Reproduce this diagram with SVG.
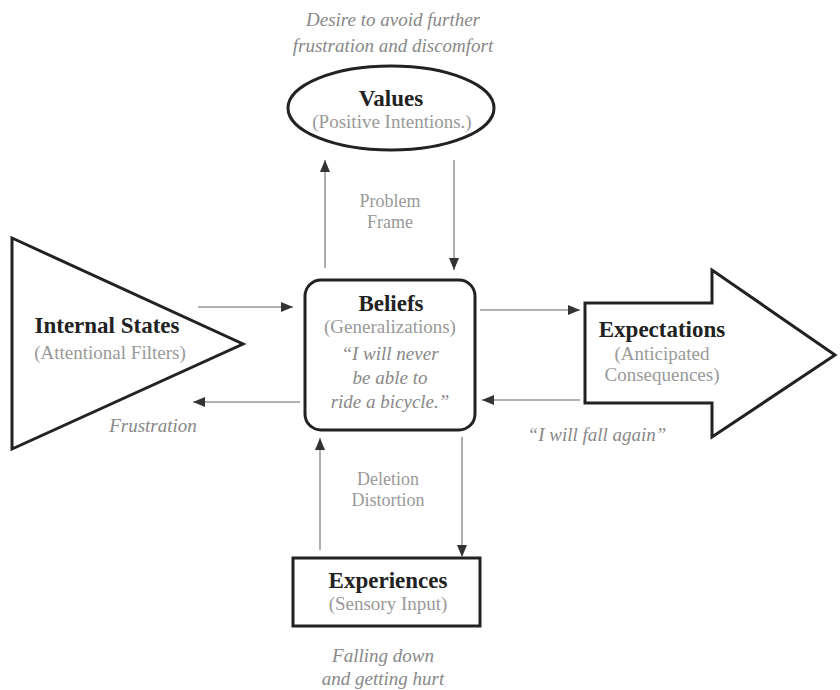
<svg xmlns="http://www.w3.org/2000/svg" width="840" height="690" viewBox="0 0 840 690">
<style>
.bg{fill:#fff}
.shape{fill:#fff;stroke:#222;stroke-width:3}
.title{font-family:"Liberation Serif",serif;font-weight:bold;font-size:23px;fill:#222;text-anchor:middle}
.sub{font-family:"Liberation Serif",serif;font-size:19px;fill:#999;text-anchor:middle}
.cap{font-family:"Liberation Serif",serif;font-style:italic;font-size:19px;fill:#888;text-anchor:middle}
.mid{font-family:"Liberation Serif",serif;font-size:18px;fill:#999;text-anchor:middle}
.conn line{stroke:#999;stroke-width:1.6;marker-end:url(#ah)}
</style>
<defs>
<marker id="ah" viewBox="0 0 12 10" refX="12" refY="5" markerWidth="12" markerHeight="10" markerUnits="userSpaceOnUse" orient="auto">
<path d="M0,0 L12,5 L0,10 z" fill="#333"/>
</marker>
</defs>
<rect class="bg" width="840" height="690"/>

<g id="values">
<text class="cap" x="393" y="26">Desire to avoid further</text>
<text class="cap" x="393" y="52">frustration and discomfort</text>
<ellipse class="shape" cx="391" cy="108" rx="103" ry="42"/>
<text class="title" x="391" y="106">Values</text>
<text class="sub" x="392" y="128">(Positive Intentions.)</text>
</g>

<g id="beliefs">
<rect class="shape" x="305" y="280" width="170" height="150" rx="16" ry="16"/>
<text class="title" x="391" y="311">Beliefs</text>
<text class="sub" x="390" y="333">(Generalizations)</text>
<text class="cap" x="390" y="360">“I will never</text>
<text class="cap" x="390" y="384">be able to</text>
<text class="cap" x="390" y="408">ride a bicycle.”</text>
</g>

<g id="internal-states">
<polygon class="shape" points="12,238 243,344 12,449" stroke-width="3.5"/>
<text class="title" x="107" y="333">Internal States</text>
<text class="sub" x="110" y="359">(Attentional Filters)</text>
<text class="cap" x="153" y="432">Frustration</text>
</g>

<g id="expectations">
<polygon class="shape" points="585,303 712,303 712,270 835,355 712,437 712,403 585,403"/>
<text class="title" x="662" y="337">Expectations</text>
<text class="sub" x="662" y="360">(Anticipated</text>
<text class="sub" x="662" y="381">Consequences)</text>
<text class="cap" x="597" y="441">“I will fall again”</text>
</g>

<g id="experiences">
<rect class="shape" x="293" y="558" width="187" height="68"/>
<text class="title" x="388" y="588">Experiences</text>
<text class="sub" x="388" y="610">(Sensory Input)</text>
<text class="cap" x="383" y="662">Falling down</text>
<text class="cap" x="383" y="685">and getting hurt</text>
</g>

<g id="connectors" class="conn">
<line x1="198" y1="307" x2="293" y2="307"/>
<line x1="300" y1="402" x2="193" y2="402"/>
<line x1="480" y1="310" x2="580" y2="310"/>
<line x1="580" y1="400" x2="482" y2="400"/>
<line x1="325" y1="268" x2="325" y2="160"/>
<line x1="454" y1="160" x2="454" y2="270"/>
<line x1="320" y1="550" x2="320" y2="438"/>
<line x1="462" y1="437" x2="462" y2="557"/>
</g>

<g id="edge-labels">
<text class="mid" x="390" y="207">Problem</text>
<text class="mid" x="390" y="228">Frame</text>
<text class="mid" x="388" y="485">Deletion</text>
<text class="mid" x="388" y="506">Distortion</text>
</g>
</svg>
